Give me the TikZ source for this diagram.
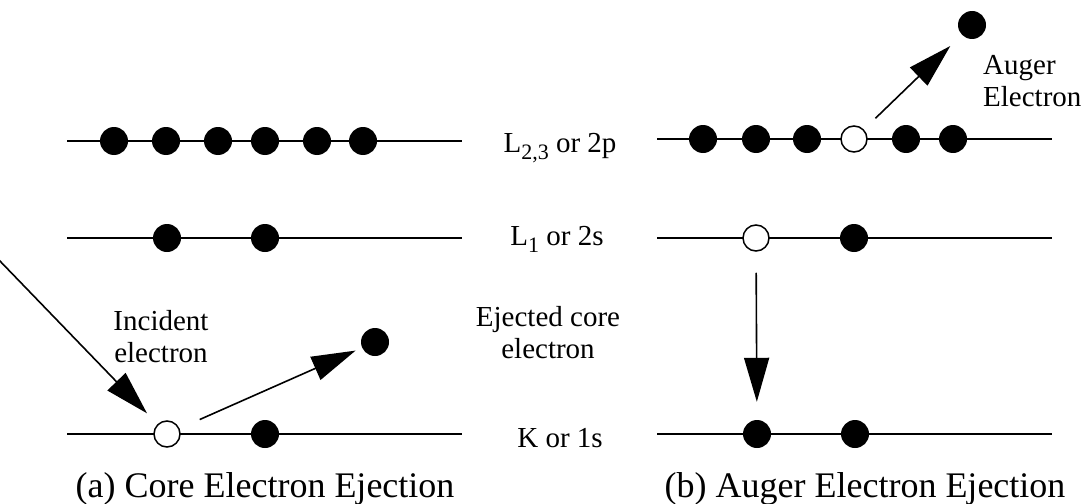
\documentclass[tikz,border=0pt]{standalone}
\usepackage{fontspec}
\setmainfont{Liberation Serif}
\usetikzlibrary{arrows.meta}
\newcommand{\sbx}[1]{\raisebox{-7pt}{\fontsize{22}{22}\selectfont #1}}
\begin{document}
\begin{tikzpicture}[x=1pt,y=-1pt,
  level/.style={line width=1.6pt},
  full/.style={circle,fill=black,inner sep=0pt,minimum size=28pt},
  hole/.style={circle,draw=black,fill=white,line width=1.5pt,inner sep=0pt,minimum size=26pt},
  arr/.style={line width=1.6pt,-{Triangle[length=44pt,width=25pt]}},
  lbl/.style={font=\fontsize{29}{32}\selectfont,inner sep=0pt,anchor=base},
  ttl/.style={font=\fontsize{36}{40}\selectfont,inner sep=0pt,anchor=base},
  txt/.style={font=\fontsize{29}{32}\selectfont,inner sep=0pt,align=center}]
\useasboundingbox (0,0) rectangle (1086,503);
% levels
\draw[level] (67,141) -- (462,141);
\draw[level] (67,238) -- (462,238);
\draw[level] (67,434) -- (462,434);
\draw[level] (657,139) -- (1052,139);
\draw[level] (657,238) -- (1052,238);
\draw[level] (657,434) -- (1052,434);
% (a) electrons
\node[full] (a1) at (114,141) {};
\node[full] (a2) at (166,141) {};
\node[full] (a3) at (218,141) {};
\node[full] (a4) at (265,141) {};
\node[full] (a5) at (317,141) {};
\node[full] (a6) at (363,141) {};
\node[full] (as1) at (167,238) {};
\node[full] (as2) at (265,238) {};
\node[hole] (ak1) at (167,434) {};
\node[full] (ak2) at (265,434) {};
\node[full] (ej) at (375,342) {};
% (b) electrons
\node[full] (b1) at (703,139) {};
\node[full] (b2) at (756,139) {};
\node[full] (b3) at (807,139) {};
\node[hole] (b4) at (854,139) {};
\node[full] (b5) at (906,139) {};
\node[full] (b6) at (953,139) {};
\node[hole] (bs1) at (756,238) {};
\node[full] (bs2) at (854,238) {};
\node[full] (bk1) at (757,434) {};
\node[full] (bk2) at (855,434) {};
\node[full] (au) at (972,25) {};
% arrows
\coordinate (inc) at (-2,259);
\draw[arr,shorten >=15pt] (inc) -- (ak1);
\draw[arr,shorten <=22pt,shorten >=7pt] (ak1) -- (ej);
\draw[arr,shorten <=21pt,shorten >=18pt] (bs1) -- (bk1);
\draw[arr,shorten <=16pt,shorten >=16pt] (b4) -- (au);
% labels
\node[lbl] (l23) at (560,152) {L\sbx{2,3} or 2p};
\node[lbl] (l1) at (557,245) {L\sbx{1} or 2s};
\node[lbl] (lk) at (560,447) {K or 1s};
\node[txt,anchor=base] (inct) at (161,362) {Incident\\electron};
\node[txt,anchor=base] (ejt) at (548,358) {Ejected core\\electron};
\node[txt,anchor=base west,align=left] (aut) at (983,106) {Auger\\Electron};
\node[ttl] (ta) at (265,497) {(a) Core Electron Ejection};
\node[ttl] (tb) at (865,497) {(b) Auger Electron Ejection};
\end{tikzpicture}
\end{document}
